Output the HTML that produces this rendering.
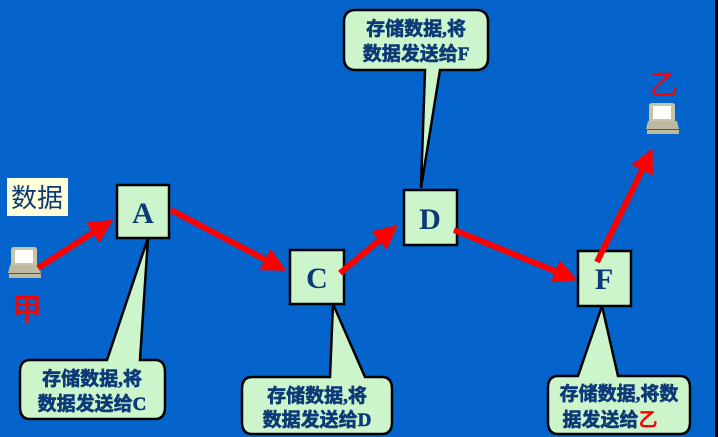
<!DOCTYPE html>
<html><head><meta charset="utf-8"><style>
html,body{margin:0;padding:0;background:#0563cc;overflow:hidden}
svg{display:block}
text{font-family:"Liberation Serif","Noto Sans CJK SC",sans-serif;font-weight:bold;fill:#0c3a78}
.cj{font-family:"Liberation Serif","Noto Sans CJK SC",sans-serif;stroke:#0c3a78;stroke-width:0.6}
</style></head><body>
<svg width="718" height="437" viewBox="0 0 718 437" xmlns="http://www.w3.org/2000/svg">
<defs>
<marker id="ah" markerWidth="4" markerHeight="4" refX="3" refY="2" orient="auto" markerUnits="strokeWidth">
<path d="M0,0 L4,2 L0,4 z" fill="#ff0000"/></marker>
<g id="pc">
<path d="M4,0 h20 q3,0 3,3 v15 h-26 v-15 q0,-3 3,-3z" fill="#c8c4a8"/>
<rect x="5" y="3" width="18" height="13" fill="#fff"/>
<path d="M0,18 h29 l2,8 h-33z" fill="#bdb9a0"/>
<rect x="-1" y="27" width="32" height="4" fill="#bdb9a0"/>
</g>
</defs>
<rect width="718" height="437" fill="#0563cc"/>
<rect x="715" y="0" width="3" height="437" fill="#000"/>

<rect x="7" y="178" width="61" height="38" fill="#ffffd8"/>
<text x="37" y="207" font-size="26" text-anchor="middle" style="font-weight:normal">数据</text>

<use href="#pc" x="10" y="247"/>
<text x="27" y="320" font-size="30" text-anchor="middle" style="fill:#f00;stroke:#f00;stroke-width:0.6;font-weight:normal">甲</text>
<use href="#pc" x="648" y="103"/>
<text x="664" y="94" font-size="28" text-anchor="middle" style="fill:#f00;font-weight:normal">乙</text>

<g fill="#ccf5cc" stroke="#000" stroke-width="2.5">
<path d="M30,360 H107 L148,238 L140,360 H155 Q165,360 165,372 V407 Q165,419 155,419 H30 Q20,419 20,407 V372 Q20,360 30,360Z"/>
<path d="M252,377 H330 L333,304 L365,377 H382 Q392,377 392,389 V422 Q392,434 382,434 H252 Q242,434 242,422 V389 Q242,377 252,377Z"/>
<path d="M356,10 H476 Q488,10 488,22 V58 Q488,70 476,70 H440 L421,188 L425,70 H356 Q344,70 344,58 V22 Q344,10 356,10Z"/>
<path d="M558,376 H578 L602,306 L618,376 H680 Q690,376 690,388 V422 Q690,434 680,434 H558 Q548,434 548,422 V388 Q548,376 558,376Z"/>
</g>
<g font-size="19" text-anchor="middle" class="cj">
<text x="92" y="385">存储数据,将</text><text x="92" y="410">数据发送给C</text>
<text x="317" y="402">存储数据,将</text><text x="317" y="426">数据发送给D</text>
<text x="416" y="35">存储数据,将</text><text x="416" y="60">数据发送给F</text>
<text x="619" y="400">存储数据,将数</text><text x="610" y="426">据发送给<tspan style="fill:#f00;stroke:none">乙</tspan></text>
</g>

<g fill="#ccf5cc" stroke="#000" stroke-width="2.5">
<rect x="117" y="185" width="52" height="53"/>
<rect x="290" y="250" width="54" height="54"/>
<rect x="404" y="190" width="53" height="55"/>
<rect x="578" y="251" width="53" height="55"/>
</g>
<g font-size="30" text-anchor="middle">
<text x="143" y="223">A</text>
<text x="317" y="288">C</text>
<text x="430" y="229">D</text>
<text x="604" y="289">F</text>
</g>

<g stroke="#ff0000" stroke-width="6" marker-end="url(#ah)" fill="none">
<line x1="38" y1="268" x2="108" y2="223"/>
<line x1="171" y1="210" x2="281" y2="268"/>
<line x1="340" y1="273" x2="393" y2="229"/>
<line x1="454" y1="230" x2="572" y2="278"/>
<line x1="597" y1="262" x2="650" y2="154"/>
</g>
</svg>
</body></html>
